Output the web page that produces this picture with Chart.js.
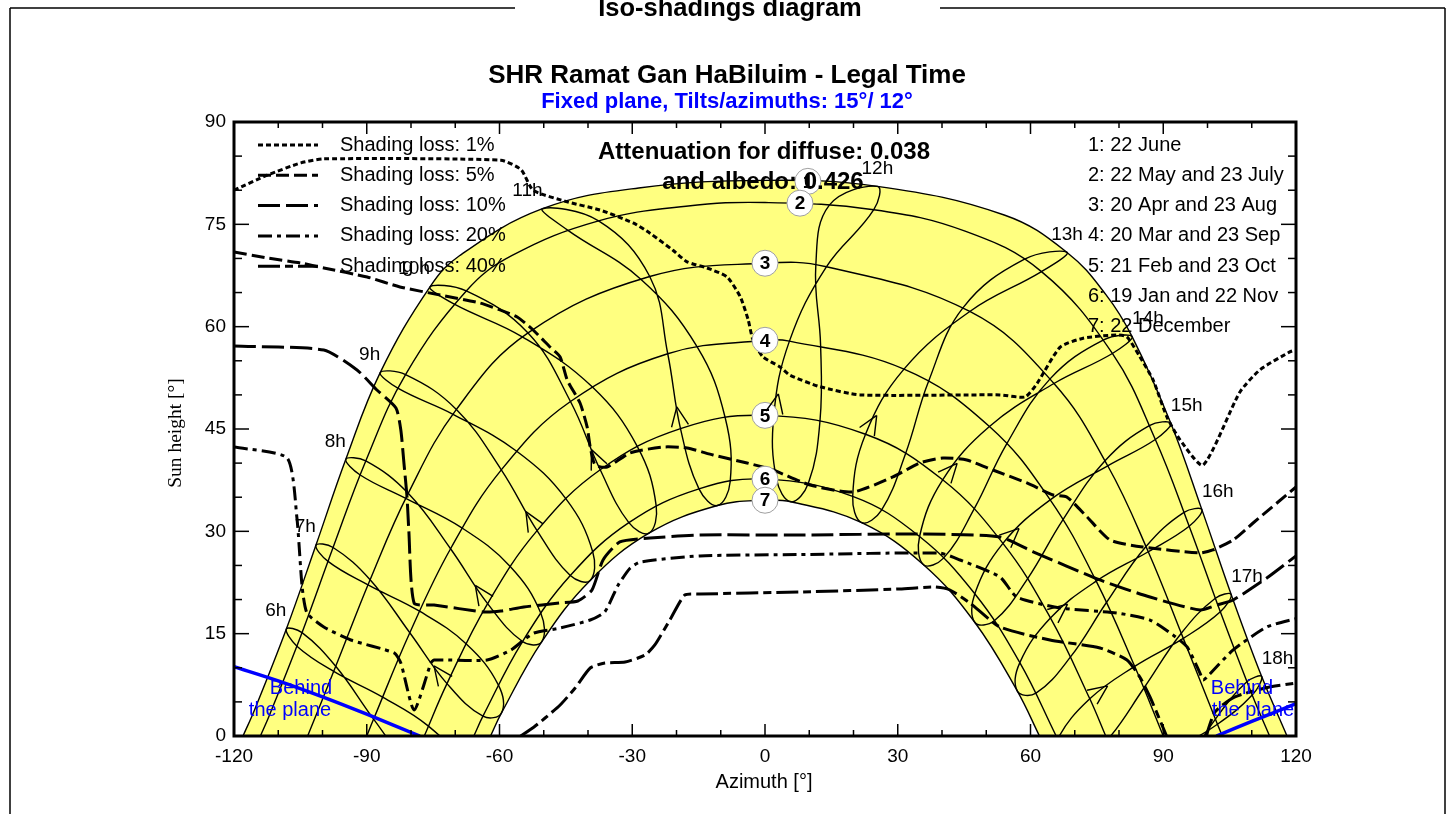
<!DOCTYPE html>
<html lang="en">
<head>
<meta charset="utf-8">
<title>Iso-shadings diagram</title>
<script src="https://cdn.jsdelivr.net/npm/chart.js@4.4.1/dist/chart.umd.min.js"></script>
<style>
html,body{margin:0;padding:0;background:#fff;}
canvas{display:block;}
</style>
</head>
<body>
<canvas id="chart" width="1453" height="814"></canvas>
<script>
// ---- Sun positions [azimuth °, height °] at legal hours 6h .. 18h, one list per date ----
const hourNames = ['6h','7h','8h','9h','10h','11h','12h','13h','14h','15h','16h','17h','18h'];
const jun22 = [[-108.17,15.68],[-101.49,27.96],[-94.73,40.56],[-86.96,53.26],[-75.71,65.83],[-50.28,77.29],[25.39,80.57],[68.26,70.88],[82.96,58.54],[91.71,45.84],[98.73,33.18],[105.35,20.75],[112.25,8.71]];
const may22 = [[-104.63,15.15],[-97.61,27.63],[-90.22,40.32],[-81.23,52.98],[-67.51,65.24],[-37.61,75.51],[24.58,77.14],[62.48,68.07],[78.50,56.07],[88.21,43.46],[95.86,30.74],[102.90,18.20],[110.10,6.00]];
const jul23 = [[-105.78,13.17],[-98.75,25.59],[-91.48,38.26],[-82.88,50.95],[-70.32,63.33],[-44.61,74.16],[14.54,77.82],[58.55,69.86],[76.53,58.07],[86.85,45.48],[94.69,32.78],[101.77,20.20],[108.90,7.94]];
const apr20 = [[-97.01,10.22],[-89.24,22.91],[-80.63,35.57],[-69.74,47.87],[-53.55,59.08],[-26.05,67.35],[13.87,68.78],[46.28,62.23],[65.30,51.67],[77.45,39.61],[86.61,27.01],[94.53,14.31],[102.25,1.73]];
const aug23 = [[-97.47,9.46],[-89.71,22.15],[-81.18,34.83],[-70.49,47.16],[-54.76,58.48],[-28.13,67.00],[11.48,68.94],[44.77,62.79],[64.42,52.35],[76.84,40.34],[86.10,27.77],[94.07,15.06],[101.78,2.48]];
const mar20 = [[-88.45,2.48],[-80.27,15.14],[-71.06,27.45],[-59.59,39.01],[-43.96,49.03],[-21.98,56.03],[5.52,57.88],[31.41,53.78],[50.72,45.37],[64.45,34.62],[74.85,22.70],[83.54,10.21],[91.55,-2.48]];
const sep23 = [[-86.42,5.70],[-78.07,18.29],[-68.42,30.47],[-56.11,41.74],[-39.06,51.18],[-15.33,57.04],[12.56,57.37],[36.95,51.97],[54.62,42.82],[67.31,31.69],[77.16,19.57],[85.60,7.00],[93.58,-5.70]];
const feb21 = [[-79.92,-4.65],[-71.87,7.68],[-62.69,19.41],[-51.51,30.10],[-37.24,39.02],[-19.10,45.06],[1.99,46.98],[22.72,44.23],[40.15,37.55],[53.77,28.24],[64.50,17.31],[73.40,5.45],[81.35,-6.96]];
const oct23 = [[-76.06,1.45],[-67.56,13.53],[-57.53,24.82],[-44.98,34.75],[-28.84,42.42],[-8.97,46.58],[12.43,46.20],[31.76,41.38],[47.24,33.25],[59.32,23.04],[69.04,11.59],[77.37,-0.58],[85.11,-13.15]];
const jan19 = [[-71.48,-8.85],[-63.74,2.91],[-54.80,13.85],[-44.00,23.52],[-30.77,31.27],[-14.92,36.23],[2.61,37.60],[19.82,35.12],[34.93,29.24],[47.41,20.85],[57.59,10.75],[66.11,-0.47],[73.60,-12.40]];
const nov22 = [[-68.42,-3.96],[-60.27,7.50],[-50.66,17.99],[-38.92,26.97],[-24.58,33.69],[-7.87,37.26],[9.80,37.04],[26.30,33.08],[40.34,26.07],[51.81,16.89],[61.24,6.28],[69.26,-5.27],[76.49,-17.43]];
const dec22 = [[-67.30,-8.00],[-59.55,3.38],[-50.47,13.80],[-39.51,22.80],[-26.22,29.73],[-10.74,33.78],[5.87,34.33],[21.85,31.27],[35.82,25.11],[47.44,16.64],[57.03,6.58],[65.13,-4.56],[72.25,-16.40]];

// ---- Daily sun paths, sunrise to sunset ----
const sunPath1 = [[-117.97,0],[-115.34,3.86],[-108.17,15.68],[-101.49,27.96],[-94.73,40.56],[-86.96,53.26],[-75.71,65.83],[-69.13,70.36],[-50.28,77.29],[-28.54,80.33],[0,81.44],[25.39,80.57],[54.06,76.37],[68.26,70.88],[77.04,64.69],[82.96,58.54],[91.71,45.84],[98.73,33.18],[105.35,20.75],[112.25,8.71],[117.97,0]];
const sunPath2 = [[-114.03,0],[-111.97,3.08],[-104.63,15.15],[-97.61,27.63],[-90.22,40.32],[-81.23,52.98],[-67.51,65.24],[-57.25,70.4],[-37.61,75.51],[-17.86,77.66],[0,78.2],[24.58,77.14],[45.22,74.0],[62.48,68.07],[78.50,56.07],[88.21,43.46],[95.86,30.74],[102.90,18.20],[110.10,6.00],[114.03,0]];
const sunPath3 = [[-103.36,0],[-97.01,10.22],[-89.24,22.91],[-80.63,35.57],[-69.74,47.87],[-53.55,59.08],[-26.05,67.35],[0,69.3],[13.87,68.78],[46.28,62.23],[65.30,51.67],[77.45,39.61],[86.61,27.01],[94.53,14.31],[102.25,1.73],[103.36,0]];
const sunPath4 = [[-90,0],[-88.45,2.48],[-80.27,15.14],[-71.06,27.45],[-59.59,39.01],[-43.96,49.03],[-21.98,56.03],[0,58.0],[5.52,57.88],[31.41,53.78],[50.72,45.37],[64.45,34.62],[74.85,22.70],[83.54,10.21],[90,0]];
const sunPath5 = [[-77.0,0],[-71.87,7.68],[-62.69,19.41],[-51.51,30.10],[-37.24,39.02],[-19.10,45.06],[0,47.0],[22.72,44.23],[40.15,37.55],[53.77,28.24],[64.50,17.31],[73.40,5.45],[77.0,0]];
const sunPath6 = [[-65.8,0],[-63.74,2.91],[-54.80,13.85],[-44.00,23.52],[-30.77,31.27],[-14.92,36.23],[0,37.65],[19.82,35.12],[34.93,29.24],[47.41,20.85],[57.59,10.75],[65.8,0]];
const sunPath7 = [[-62.03,0],[-59.55,3.38],[-50.47,13.80],[-39.51,22.80],[-26.22,29.73],[-10.74,33.78],[0,34.56],[5.87,34.33],[21.85,31.27],[35.82,25.11],[47.44,16.64],[57.03,6.58],[62.03,0]];
// positions just below the horizon that close the sunny band
const june22BelowHorizon = [[-123.5,-7.2],[119.94,-2.71]];
const dec22BelowHorizon = [[-67.30,-8.0],[65.13,-4.56]];

// numbered markers on the paths
const pathMarks = [[9.7,81.3],[7.9,78.1],[0,69.3],[0,58.0],[0,47.0],[0,37.65],[0,34.56]];
const dateLegend = ['1: 22 June','2: 22 May and 23 July','3: 20 Apr and 23 Aug','4: 20 Mar and 23 Sep','5: 21 Feb and 23 Oct','6: 19 Jan and 22 Nov','7: 22 December'];

// ---- Iso-shading lines [azimuth °, height °] ----
const isoLoss = ['1%','5%','10%','20%','40%'];
const iso1 = [[-120,80.0],[-112.5,82.2],[-104.9,84.0],[-99.7,84.6],[-59.7,84.4],[-55.1,83.0],[-52.4,80.0],[-44.7,78.3],[-37.3,77.1],[-29.8,75.2],[-26.0,73.7],[-20.8,71.2],[-17.6,69.5],[-13.1,68.6],[-8.6,67.3],[-5.6,64.4],[-3.8,61.0],[-2.7,58.0],[-0.5,55.6],[3.4,54.1],[5.6,52.9],[12.4,51.2],[21.5,50.0],[53.1,50.0],[58.8,49.7],[61.5,51.7],[66.7,57.0],[71.9,58.3],[79.5,58.8],[81.8,58.5],[84.7,55.6],[87.7,52.2],[90.8,46.8],[93.8,43.4],[99.0,39.7],[107.3,50.4],[111.9,53.7],[118.6,56.3],[120,56.6]];
const iso5 = [[-120,70.95],[-112.5,70.07],[-104.9,69.33],[-99.7,68.6],[-89.9,67.28],[-82.5,65.82],[-73.4,64.64],[-64.4,63.47],[-59.9,62.45],[-56.0,61.42],[-52.4,59.51],[-48.6,57.02],[-46.3,55.56],[-44.7,52.18],[-41.8,48.81],[-40.2,45.30],[-39.5,42.36],[-38.4,39.72],[-35.7,39.43],[-30.5,41.48],[-23.05,42.36],[-17.6,42.22],[-11.75,41.19],[-4.07,40.02],[1.8,38.99],[10.2,36.79],[19.9,35.77],[28.9,37.97],[35.0,40.02],[40.2,40.75],[45.6,40.46],[51.5,38.99],[59.2,37.09],[65.1,35.33],[68.2,35.03],[72.8,32.10],[78.0,28.73],[85.4,27.70],[98.3,26.83],[101.2,27.27],[105.8,28.73],[110.3,31.22],[120,36.5]];
const iso10 = [[-120,57.17],[-99.7,56.58],[-92.2,53.65],[-87.7,50.72],[-83.4,48.08],[-82.3,44.86],[-81.6,40.02],[-80.9,35.03],[-80.5,30.20],[-79.3,19.50],[-74.8,19.20],[-63.5,18.18],[-59.7,18.32],[-54.5,18.91],[-46.3,19.50],[-42.3,19.79],[-39.1,21.40],[-36.6,25.80],[-32.8,28.44],[-26.0,29.02],[-14.7,29.46],[7.9,29.46],[35.0,29.61],[53.1,29.17],[60.6,27.0],[75.7,22.87],[87.0,20.37],[98.3,18.47],[102.1,19.2],[105.8,19.94],[113.4,23.16],[120,26.4]];
const iso20 = [[-120,42.36],[-108.0,40.75],[-105.8,32.10],[-104.6,21.84],[-103.5,18.03],[-99.7,15.98],[-93.6,14.07],[-83.8,12.17],[-82.3,10.70],[-79.3,3.81],[-75.5,10.70],[-74.8,11.14],[-62.8,11.14],[-57.4,12.61],[-54.5,14.07],[-52.2,15.10],[-46.3,15.83],[-39.5,17.0],[-36.2,18.2],[-33.2,22.1],[-30.5,24.6],[-28.2,25.5],[-14.7,26.4],[7.9,26.6],[39.5,26.8],[44.1,25.8],[53.1,23.31],[56.9,20.37],[66.7,18.76],[79.5,18.03],[87.0,17.0],[92.2,14.81],[95.4,13.05],[98.3,9.23],[99.0,8.21],[99.9,8.65],[105.8,12.61],[113.4,15.98],[120,17.2]];
const iso40 = [[-55.4,-0.1],[-52.2,1.32],[-49.7,2.64],[-46.3,4.54],[-42.9,7.04],[-39.5,9.97],[-36.2,10.70],[-31.6,10.85],[-27.1,11.87],[-24.9,13.34],[-21.5,17.0],[-18.1,20.67],[-14.7,20.81],[7.9,21.11],[30.5,21.55],[38.4,21.84],[41.8,21.40],[46.3,19.50],[53.1,15.98],[64.4,14.07],[75.7,12.90],[81.8,11.14],[84.7,8.65],[87.0,5.72],[89.9,1.32],[90.8,-0.1]];
const iso40East = [[99.4,-0.6],[101.7,3.52],[106.2,5.72],[113.0,7.04],[120,7.77]];

// ---- Horizon of the tilted plane ----
const behindPlaneWest = [[-120,10.16],[-110,8.08],[-100,5.73],[-90,3.19],[-78,0]];
const behindPlaneEast = [[102,0],[110,2.14],[120,4.73]];

const xTickStep = 30, yTickStep = 15;

// ---------------------------------------------------------------
const SANS = '"Liberation Sans", Arial, Helvetica, sans-serif';
const SERIF = '"Liberation Serif", "Times New Roman", serif';
const isoDash = [[5,3],[13,5],[22,6],[14,5,4,5],[22,5,8,5]];
const toXY = arr => arr.map(p => ({x: p[0], y: p[1]}));

const datasets = [];
// sunny band between the 22 June and 22 December paths
const band = june22BelowHorizon.slice(0,1).concat(sunPath1, june22BelowHorizon.slice(1),
  dec22BelowHorizon.slice(1), sunPath7.slice().reverse(), dec22BelowHorizon.slice(0,1));
datasets.push({data: toXY(band), showLine: true, fill: 'shape', backgroundColor: '#ffff80',
  borderWidth: 0, borderColor: 'rgba(0,0,0,0)', pointRadius: 0, tension: 0.4, order: 100});

[sunPath1, sunPath2, sunPath3, sunPath4, sunPath5, sunPath6, sunPath7].forEach(p => {
  datasets.push({data: toXY(p), showLine: true, borderColor: '#000', borderWidth: 1.4,
    pointRadius: 0, tension: 0.4, fill: false, order: 50});
});

// hour lines (analemmas): dates in calendar order, wrapped so the loop closes smoothly
const yearOrder = [nov22, dec22, jan19, feb21, mar20, apr20, may22, jun22, jul23, aug23, sep23, oct23, nov22, dec22, jan19];
hourNames.forEach((name, i) => {
  const seq = yearOrder.map(d => d[i]);
  const last = seq.length - 1;
  datasets.push({data: toXY(seq), showLine: true, borderColor: '#000', borderWidth: 1.4,
    pointRadius: 0, tension: 0.4, fill: false, order: 40,
    segment: {borderColor: c => (c.p0DataIndex === 0 || c.p1DataIndex === last) ? 'rgba(0,0,0,0)' : '#000'}});
});

[iso1, iso5, iso10, iso20, iso40].forEach((l, k) => {
  datasets.push({data: toXY(l), showLine: true, borderColor: '#000', borderWidth: 3,
    borderDash: isoDash[k], pointRadius: 0, tension: 0.2, fill: false, order: 30});
});
datasets.push({data: toXY(iso40East), showLine: true, borderColor: '#000', borderWidth: 3,
  borderDash: isoDash[4], pointRadius: 0, tension: 0.2, fill: false, order: 30});

[behindPlaneWest, behindPlaneEast].forEach(l => {
  datasets.push({data: toXY(l), showLine: true, borderColor: '#0000ff', borderWidth: 3.5,
    pointRadius: 0, tension: 0.3, fill: false, order: 20});
});

datasets.push({data: toXY(pathMarks), showLine: false, pointRadius: 13, pointHoverRadius: 13,
  pointBackgroundColor: '#ffffff', pointBorderColor: '#a0a0a0', pointBorderWidth: 1, order: 10});

function label(ctx, str, x, y, font, color, align) {
  ctx.font = font; ctx.fillStyle = color;
  ctx.textAlign = align || 'center'; ctx.textBaseline = 'middle';
  ctx.fillText(str, x, y);
}
function seg(ctx, x1, y1, x2, y2) { ctx.beginPath(); ctx.moveTo(x1, y1); ctx.lineTo(x2, y2); ctx.stroke(); }

const decor = {
  id: 'decor',
  beforeDraw(chart) {
    const {ctx, width, height} = chart;
    ctx.save(); ctx.fillStyle = '#fff'; ctx.fillRect(0, 0, width, height); ctx.restore();
  },
  afterDatasetsDraw(chart) {
    const {ctx, chartArea: a, scales: {x, y}} = chart;
    ctx.save();
    // direction arrows on each hour line, just past 21 Feb, heading towards 20 Mar
    ctx.save();
    ctx.beginPath(); ctx.rect(a.left, a.top, a.right - a.left, a.bottom - a.top); ctx.clip();
    ctx.strokeStyle = '#000'; ctx.lineWidth = 1.4;
    feb21.forEach((p, i) => {
      const q = mar20[i];
      const x0 = x.getPixelForValue(p[0]), y0 = y.getPixelForValue(p[1]);
      const x1 = x.getPixelForValue(q[0]), y1 = y.getPixelForValue(q[1]);
      const d = Math.hypot(x1 - x0, y1 - y0) || 1;
      const ux = (x1 - x0) / d, uy = (y1 - y0) / d;
      const tx = x0 + ux * 22, ty = y0 + uy * 22;
      const L = 21, ang = 0.42;
      ctx.beginPath();
      [ang, -ang].forEach(s => {
        const c = Math.cos(s), sn = Math.sin(s);
        const wx = ux * c - uy * sn, wy = ux * sn + uy * c;
        ctx.moveTo(tx, ty); ctx.lineTo(tx - wx * L, ty - wy * L);
      });
      ctx.stroke();
    });
    ctx.restore();

    pathMarks.forEach((p, i) => label(ctx, String(i + 1), x.getPixelForValue(p[0]), y.getPixelForValue(p[1]) + 1, 'bold 19px ' + SANS, '#000'));
    // hour names beside the 22 June end of each hour line
    jun22.forEach((p, i) => {
      const px = x.getPixelForValue(p[0]), py = y.getPixelForValue(p[1]) - 18;
      const align = i < 6 ? 'right' : (i < 8 ? 'center' : 'left');
      label(ctx, hourNames[i], px, py, '19px ' + SANS, '#000', align);
    });
    label(ctx, 'Behind', 301, 688, '20px ' + SANS, '#0000ff');
    label(ctx, 'the plane', 290, 710, '20px ' + SANS, '#0000ff');
    label(ctx, 'Behind', 1242, 688, '20px ' + SANS, '#0000ff');
    label(ctx, 'the plane', 1253, 710, '20px ' + SANS, '#0000ff');
    ctx.restore();
  },
  afterDraw(chart) {
    const {ctx, chartArea: a, scales: {x, y}} = chart;
    ctx.save();
    ctx.strokeStyle = '#000';
    // inner tick marks
    ctx.lineWidth = 1.5;
    for (let v = 0; v <= 90; v += 5) {
      const py = y.getPixelForValue(v);
      const L = v % yTickStep === 0 ? 15 : 8;
      seg(ctx, a.left, py, a.left + L, py);
      seg(ctx, a.right - L, py, a.right, py);
    }
    for (let v = -120; v <= 120; v += 10) {
      const px = x.getPixelForValue(v);
      const L = v % xTickStep === 0 ? 12 : 6;
      seg(ctx, px, a.top, px, a.top + L);
      seg(ctx, px, a.bottom - L, px, a.bottom);
    }
    ctx.lineWidth = 3;
    ctx.strokeRect(a.left, a.top, a.right - a.left, a.bottom - a.top);

    // page frame with the heading set into its top edge
    ctx.lineWidth = 1.5;
    seg(ctx, 10, 8, 515, 8); seg(ctx, 940, 8, 1445, 8);
    seg(ctx, 10, 8, 10, 814); seg(ctx, 1445, 8, 1445, 814);
    ctx.font = 'bold 25.5px ' + SANS; ctx.fillStyle = '#000'; ctx.textAlign = 'center'; ctx.textBaseline = 'alphabetic';
    ctx.fillText('Iso-shadings diagram', 730, 16);

    label(ctx, 'SHR Ramat Gan HaBiluim - Legal Time', 727, 76, 'bold 26px ' + SANS, '#000');
    label(ctx, 'Fixed plane, Tilts/azimuths: 15\u00b0/ 12\u00b0', 727, 102, 'bold 22px ' + SANS, '#0000ff');

    label(ctx, 'Azimuth [\u00b0]', 764, 782, '20px ' + SANS, '#000');
    ctx.save();
    ctx.translate(176, 433); ctx.rotate(-Math.PI / 2);
    label(ctx, 'Sun height [\u00b0]', 0, 0, '19.5px ' + SERIF, '#000');
    ctx.restore();

    // iso-shading legend
    isoLoss.forEach((t, k) => {
      const ly = 145 + k * 30.3;
      ctx.lineWidth = 3; ctx.setLineDash(isoDash[k]);
      seg(ctx, 258, ly, 318, ly);
      ctx.setLineDash([]);
      label(ctx, 'Shading loss: ' + t, 340, ly, '20px ' + SANS, '#000', 'left');
    });
    // date legend
    dateLegend.forEach((t, k) => label(ctx, t, 1088, 145 + k * 30.3, '20px ' + SANS, '#000', 'left'));

    label(ctx, 'Attenuation for diffuse: 0.038', 764, 152, 'bold 24px ' + SANS, '#000');
    label(ctx, 'and albedo: 0.426', 763, 182, 'bold 24px ' + SANS, '#000');
    ctx.restore();
  }
};

new Chart(document.getElementById('chart'), {
  type: 'scatter',
  data: {datasets},
  options: {
    responsive: false, animation: false, devicePixelRatio: 1, events: [],
    layout: {padding: {left: 174, top: 122, right: 157, bottom: 38}},
    plugins: {legend: {display: false}, tooltip: {enabled: false}},
    elements: {line: {capBezierPoints: false}},
    scales: {
      x: {type: 'linear', min: -120, max: 120,
        ticks: {stepSize: xTickStep, font: {family: SANS, size: 19}, color: '#000', padding: 9, maxRotation: 0, autoSkip: false},
        grid: {display: false, drawTicks: false}, border: {display: false},
        afterFit: s => { s.height = 40; }},
      y: {type: 'linear', min: 0, max: 90,
        ticks: {stepSize: yTickStep, font: {family: SANS, size: 19}, color: '#000', padding: 8},
        grid: {display: false, drawTicks: false}, border: {display: false},
        afterFit: s => { s.width = 60; }}
    }
  },
  plugins: [decor]
});
</script>
</body>
</html>
